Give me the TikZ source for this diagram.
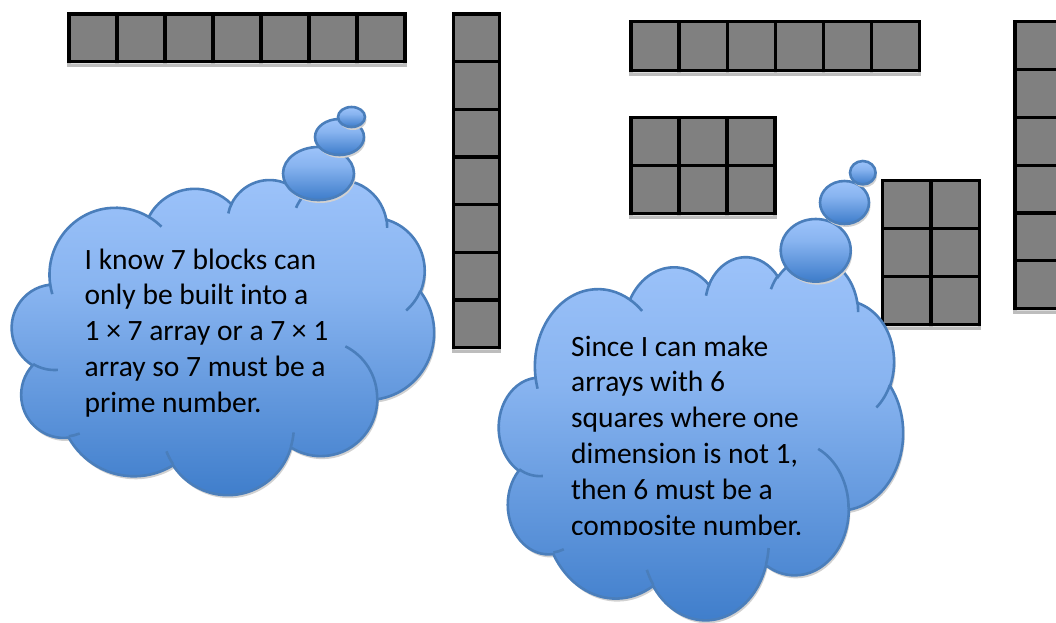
\documentclass[tikz,border=0pt]{standalone}
\usepackage{fontspec}
\setmainfont{Carlito}
\definecolor{blockgray}{HTML}{808080}
\definecolor{cloudA}{HTML}{9DC3FA}
\definecolor{cloudB}{HTML}{88B4F0}
\definecolor{cloudC}{HTML}{3D7CCA}
\definecolor{cloudline}{HTML}{4A7EBB}
\pgfdeclareverticalshading{cloudfill}{100bp}{color(0bp)=(cloudC); color(25bp)=(cloudC); color(57.5bp)=(cloudB); color(75bp)=(cloudA); color(100bp)=(cloudA)}

% Outline of the cloud, in a 432 x 432 box (arcs given by their visual angles)
\newcommand\cloudoutline{(39,143.7)
  arc[oarc={67.53}{91.90}{-190.4875}{123.7805}]
  arc[oarc={53.33}{72.67}{-144.1024}{89.9452}]
  arc[oarc={43.65}{59.45}{-145.8079}{99.7230}]
  arc[oarc={48.57}{65.95}{-130.9861}{117.2417}]
  arc[oarc={53.33}{72.73}{-78.7089}{109.0269}]
  arc[oarc={67.75}{92.20}{-46.2673}{130.2690}]
  arc[oarc={57.85}{78.67}{0.6250}{114.0333}]
  arc[oarc={67.52}{92.15}{22.4516}{115.1726}]
  arc[oarc={77.20}{105.43}{66.2426}{75.7110}]
  arc[oarc={43.60}{59.18}{-274.9421}{146.7356}]
  arc[oarc={43.45}{59.45}{-246.8285}{152.5189}] -- cycle}
% Inner crease lines of the cloud
\newcommand\cloudcreases{
  (46.93,261.77) arc[oarc={43.45}{59.45}{86.7420}{26.4295}]
  (69.28,348.99) arc[oarc={43.60}{59.18}{73.6105}{11.4475}]
  (164.78,390.90) arc[oarc={67.52}{92.15}{137.6242}{14.0811}]
  (288.27,347.51) arc[oarc={67.52}{92.15}{6.4533}{15.9984}]
  (341.29,229.54) arc[oarc={57.85}{78.67}{-70.2924}{70.9174}]
  (417.98,153.54) arc[oarc={53.33}{72.73}{30.3180}{27.7515}]
  (383.24,54.26) arc[oarc={48.57}{65.95}{-13.7443}{14.8589}]
  (290.78,39.52) arc[oarc={48.57}{65.95}{-149.1815}{18.1954}]
  (221.41,47.20) arc[oarc={43.65}{59.45}{-163.4943}{17.6864}]
  (140.00,51.92) arc[oarc={67.53}{91.90}{-66.7070}{12.3194}]
  (41.27,157.89) arc[oarc={67.53}{91.90}{157.6544}{11.8582}]}

\begin{document}
\begin{tikzpicture}[x=1pt, y=-1pt,
  declare function={vang(\a,\b,\t)=atan2(\a*sin(\t),\b*cos(\t));},
  oarc/.style n args={4}{x radius=#1, y radius=#2,
    start angle={vang(#1,#2,#3)},
    delta angle={mod(vang(#1,#2,#3+#4)-vang(#1,#2,#3)+720,360)}},
  blk/.style={fill=blockgray, draw=black, line width=3.2pt},
  blkshadow/.style={fill=black!14, draw=black!26, line width=3.2pt, yshift=-4pt},
  cloudbody/.style={shading=cloudfill, draw=cloudline, line width=2.6pt},
  cloudcrease/.style={draw=cloudline, line width=2.6pt},
  softshadow/.style={fill=black!18, xshift=1.5pt, yshift=-3pt},
  txt/.style={anchor=base west, align=left, inner sep=0pt,
    font=\fontsize{29.5pt}{35.8pt}\selectfont}]
\useasboundingbox (0,0) rectangle (1056,622);
\clip (0,0) rectangle (1056,622);

% ---- seven blocks in a row
\foreach \i in {0,...,6} \path[blkshadow] (69+48*\i,14) rectangle ++(48,47.7);
\foreach \i in {0,...,6} \path[blk] (69+48*\i,14) rectangle ++(48,47.7);
% ---- seven blocks in a column
\foreach \j in {0,...,6} \path[blkshadow] (453.7,14+47.65*\j) rectangle ++(45.8,47.65);
\foreach \j in {0,...,6} \path[blk] (453.7,14+47.65*\j) rectangle ++(45.8,47.65);
% ---- six blocks in a row
\foreach \i in {0,...,5} \path[blkshadow] (631+48.08*\i,21.7) rectangle ++(48.08,48.6);
\foreach \i in {0,...,5} \path[blk] (631+48.08*\i,21.7) rectangle ++(48.08,48.6);
% ---- 2 x 3 array
\foreach \i in {0,1,2} \foreach \j in {0,1} \path[blkshadow] (631+48*\i,117.7+48*\j) rectangle ++(48,48);
\foreach \i in {0,1,2} \foreach \j in {0,1} \path[blk] (631+48*\i,117.7+48*\j) rectangle ++(48,48);
% ---- 3 x 2 array
\foreach \i in {0,1} \foreach \j in {0,1,2} \path[blkshadow] (882.7+48.3*\i,180.7+47.8*\j) rectangle ++(48.3,47.8);
\foreach \i in {0,1} \foreach \j in {0,1,2} \path[blk] (882.7+48.3*\i,180.7+47.8*\j) rectangle ++(48.3,47.8);
% ---- six blocks in a column
\foreach \j in {0,...,5} \path[blkshadow] (1015,21.7+47.8*\j) rectangle ++(48,47.8);
\foreach \j in {0,...,5} \path[blk] (1015,21.7+47.8*\j) rectangle ++(48,47.8);

% ---- first thought cloud
\begin{scope}[shift={(12,179)}, x=0.97685pt, y=-0.72917pt]
  \path[softshadow] \cloudoutline;
  \shadedraw[cloudbody] \cloudoutline;
  \path[cloudcrease] \cloudcreases;
\end{scope}
\fill[softshadow] (318.5,173.5) ellipse[x radius=35.5, y radius=26.5];
\shadedraw[cloudbody] (318.5,173.5) ellipse[x radius=35.5, y radius=26.5];
\fill[softshadow] (339.5,137) ellipse[x radius=24.5, y radius=18];
\shadedraw[cloudbody] (339.5,137) ellipse[x radius=24.5, y radius=18];
\fill[softshadow] (351.5,117) ellipse[x radius=13.5, y radius=10];
\shadedraw[cloudbody] (351.5,117) ellipse[x radius=13.5, y radius=10];
% the node's base is the baseline of its last line
\node[txt] (prime) at (84.5,412.2) {I know 7 blocks can\\only be built into a\\1 × 7 array or a 7 × 1\\array so 7 must be a\\prime number.};

% ---- second thought cloud
\begin{scope}[shift={(499,256)}, x=0.93519pt, y=-0.84028pt]
  \path[softshadow] \cloudoutline;
  \shadedraw[cloudbody] \cloudoutline;
  \path[cloudcrease] \cloudcreases;
\end{scope}
\fill[softshadow] (815.7,250.3) ellipse[x radius=35, y radius=31.3];
\shadedraw[cloudbody] (815.7,250.3) ellipse[x radius=35, y radius=31.3];
\fill[softshadow] (844.5,202.5) ellipse[x radius=24.5, y radius=21.5];
\shadedraw[cloudbody] (844.5,202.5) ellipse[x radius=24.5, y radius=21.5];
\fill[softshadow] (862.8,172.7) ellipse[x radius=12.8, y radius=11.7];
\shadedraw[cloudbody] (862.8,172.7) ellipse[x radius=12.8, y radius=11.7];
\begin{scope}
  \clip (499,0) rectangle (903,534.5);
  \node[txt] (composite) at (571,535) {Since I can make\\arrays with 6\\squares where one\\dimension is not 1,\\then 6 must be a\\composite number.};
\end{scope}
\end{tikzpicture}
\end{document}
